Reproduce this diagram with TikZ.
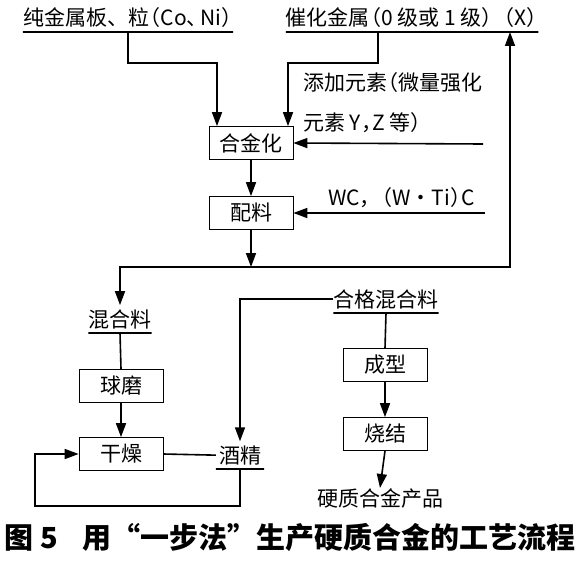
\documentclass[tikz,border=0pt]{standalone}
\usepackage{fontspec}
\setmainfont{Noto Sans CJK SC}
\usetikzlibrary{arrows.meta}
\newcommand\kl{\kern-.45em}

\begin{document}
\begin{tikzpicture}[x=1pt,y=-1pt]
	\tikzset{
		box/.style={draw,line width=.7pt,minimum width=84pt,minimum height=33pt,inner sep=0pt,font=\fontsize{21}{25}\selectfont},
		txt/.style={inner sep=0pt,font=\fontsize{21}{25}\selectfont},
		ul/.style={txt,inner ysep=4pt,anchor=south},
		line/.style={line width=1.6pt},
		arr/.style={line,-{Triangle[length=14pt,width=10pt]}}
	}
	\useasboundingbox (0,0) rectangle (585,578);
	\path
	(128,32) node[ul](pure){纯金属板、粒\kl（Co、\kern-.35em Ni）\kl}
	(412,32) node[ul](cat){催化金属\kl（0 级或 1 级）\kl（X）\kl}
	(303,83) node[txt,anchor=west](add1){添加元素\kl（微量强化}
	(303,123) node[txt,anchor=west](add2){元素 Y，\kl Z 等）\kl}
	(328,198) node[txt,anchor=west](wc){WC，\kl（W·Ti）\kl C}
	(251,143) node[box](alloy){合金化}
	(251,213) node[box](mix){配料}
	(120,333) node[ul](blend){混合料}
	(121,386) node[box](mill){球磨}
	(121,454) node[box](dry){干燥}
	(240,469) node[ul,inner xsep=3pt](alcohol){酒精}
	(386,313) node[ul](good){合格混合料}
	(385,365) node[box](form){成型}
	(385,434) node[box](sinter){烧结}
	(380,498) node[txt](product){硬质合金产品}
	(290,538) node[inner sep=0pt,font=\fontsize{29}{32}\selectfont\bfseries](cap){图 5\hspace{24pt}用“一步法”生产硬质合金的工艺流程}
	;
	\coordinate (addin) at (483,144);
	\coordinate (wcin) at (485,213);
	\coordinate (split) at (251,267);
	\coordinate (ret) at (510,267);
	\coordinate (loop) at (35,506);
	% underlines
	\draw[line]
	(pure.south west)--(pure.south east)
	(cat.south west)--(cat.south east)
	(blend.south west)--(blend.south east)
	(alcohol.south west)--(alcohol.south east)
	(good.south west)--(good.south east)
	(blend.south)--(mill.north)
	(dry.east)--(alcohol.west)
	(good.south)--(form.north)
	;
	% flow
	\draw[arr] (pure.south)--++(0,31)-|([xshift=-34pt]alloy.north);
	\draw[arr] ([xshift=-34pt]cat.south)--++(0,31)-|([xshift=37pt]alloy.north);
	\draw[arr] (addin)--(alloy.east);
	\draw[arr] (wcin)--(mix.east);
	\draw[arr] (alloy.south)--(mix.north);
	\draw[arr] (mix.south)--(split);
	\draw[arr] (split)-|(blend.north);
	\draw[arr] (split)--(ret)--(ret|-cat.south);
	\draw[arr] (mill.south)--(dry.north);
	\draw[arr] (good.west)-|(alcohol.north);
	\draw[arr] (alcohol.south)|-(loop)|-(dry.west);
	\draw[arr] (form.south)--(sinter.north);
	\draw[arr] (sinter.south)--(product.north);
\end{tikzpicture}
\end{document}
